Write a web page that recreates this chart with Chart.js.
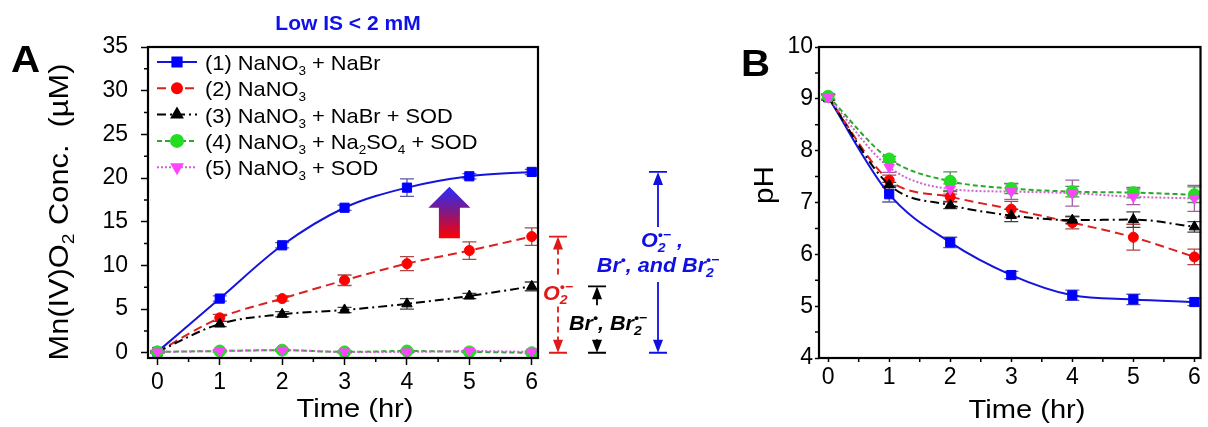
<!DOCTYPE html>
<html>
<head>
<meta charset="utf-8">
<script src="https://cdn.jsdelivr.net/npm/chart.js@4.4.1/dist/chart.umd.min.js"></script>
<style>
  html, body { margin: 0; padding: 0; background: #fff; }
  #wrapA { position: absolute; left: 0; top: 0; width: 730px; height: 427px; }
  #wrapB { position: absolute; left: 730px; top: 0; width: 478px; height: 427px; }
</style>
</head>
<body>
<div id="wrapA"><canvas id="chartA" width="730" height="427"></canvas></div>
<div id="wrapB"><canvas id="chartB" width="478" height="427"></canvas></div>
<script>
// time points (hr)
const hours = [0, 1, 2, 3, 4, 5, 6];
const xTicks = [0, 1, 2, 3, 4, 5, 6];
const yTicksA = [0, 5, 10, 15, 20, 25, 30, 35];
const yTicksB = [4, 5, 6, 7, 8, 9, 10];

// panel A: Mn(IV)O2 conc. (uM)
const concNaBr = [0.1, 6.2, 12.3, 16.6, 18.9, 20.2, 20.7];
const concNaNO3 = [0.1, 4.0, 6.2, 8.3, 10.2, 11.7, 13.3];
const concNaBrSOD = [0.1, 3.3, 4.4, 4.9, 5.6, 6.5, 7.6];
const concNa2SO4SOD = [0.1, 0.2, 0.3, 0.1, 0.2, 0.1, 0.0];
const concSOD = [0.1, 0.2, 0.3, 0.1, 0.1, 0.2, 0.1];

const errNaBr = [0.1, 0.3, 0.3, 0.3, 1.0, 0.3, 0.3];
const errNaNO3 = [0.1, 0.4, 0.3, 0.6, 0.8, 1.0, 1.0];
const errNaBrSOD = [0.1, 0.3, 0.3, 0.3, 0.6, 0.3, 0.5];
const errNa2SO4SOD = [0.1, 0.1, 0.1, 0.1, 0.1, 0.1, 0.1];
const errSOD = [0.1, 0.1, 0.1, 0.1, 0.1, 0.1, 0.1];

// panel B: pH
const phNaBr = [9.03, 7.16, 6.23, 5.6, 5.21, 5.13, 5.08];
const phNaNO3 = [9.03, 7.43, 7.11, 6.87, 6.61, 6.33, 5.95];
const phNaBrSOD = [9.03, 7.34, 6.95, 6.75, 6.66, 6.67, 6.53];
const phNa2SO4SOD = [9.05, 7.84, 7.41, 7.27, 7.21, 7.19, 7.15];
const phSOD = [9.03, 7.68, 7.26, 7.21, 7.18, 7.11, 7.08];

const errPhNaBr = [0.05, 0.15, 0.1, 0.07, 0.1, 0.1, 0.07];
const errPhNaNO3 = [0.05, 0.1, 0.1, 0.15, 0.12, 0.25, 0.15];
const errPhNaBrSOD = [0.05, 0.05, 0.07, 0.12, 0.07, 0.15, 0.1];
const errPhNa2SO4SOD = [0.05, 0.05, 0.18, 0.1, 0.1, 0.1, 0.15];
const errPhSOD = [0.05, 0.1, 0.1, 0.15, 0.25, 0.15, 0.25];

// legend labels, as [text, kind] runs (kind: n normal, sub subscript)
const legendLabels = [
  [['(1) NaNO', 'n'], ['3', 'sub'], [' + NaBr', 'n']],
  [['(2) NaNO', 'n'], ['3', 'sub']],
  [['(3) NaNO', 'n'], ['3', 'sub'], [' + NaBr + SOD', 'n']],
  [['(4) NaNO', 'n'], ['3', 'sub'], [' + Na', 'n'], ['2', 'sub'], ['SO', 'n'], ['4', 'sub'], [' + SOD', 'n']],
  [['(5) NaNO', 'n'], ['3', 'sub'], [' + SOD', 'n']]
];

const FONT = '"Liberation Sans", Arial, sans-serif';

const styles = [
  { line: '#1414dc', fill: '#0000ff', err: '#5a5aa8', dash: [], point: 'rect', r: 6.5, rot: 0 },
  { line: '#dc2020', fill: '#ff0000', err: '#a84848', dash: [9, 5], point: 'circle', r: 5, rot: 0 },
  { line: '#000000', fill: '#000000', err: '#404040', dash: [9, 4, 2, 4], point: 'triangle', r: 6, rot: 0 },
  { line: '#2aa82a', fill: '#22dd22', err: '#4f8f4f', dash: [5, 3], point: 'circle', r: 6, rot: 0 },
  { line: '#cc66cc', fill: '#ff44ff', err: '#a060a0', dash: [2, 2], point: 'triangle', r: 6, rot: 180 }
];

function makeDatasets(values, errors) {
  return values.map((arr, k) => ({
    data: hours.map((h, i) => ({ x: h, y: arr[i] })),
    errorBars: errors[k],
    borderColor: styles[k].line,
    borderWidth: 2,
    borderDash: styles[k].dash,
    pointStyle: styles[k].point,
    pointRotation: styles[k].rot,
    pointRadius: styles[k].r,
    pointBackgroundColor: styles[k].fill,
    pointBorderColor: styles[k].fill,
    pointBorderWidth: 1,
    cubicInterpolationMode: 'monotone',
    fill: false,
    order: 5 - k
  }));
}

// rich text: runs of [text, kind]; kind n | sub | sup; 3rd flag stacks on previous run
function drawRich(ctx, runs, x, y, size, weight, color, align, stretch) {
  const sx = stretch || 1;
  const small = Math.round(size * 0.64);
  const fontFor = k => `${weight} ${k === 'n' ? size : small}px ${FONT}`;
  let cursor = 0, prevStart = 0;
  const placed = [];
  runs.forEach(([t, k, stack]) => {
    ctx.font = fontFor(k);
    const w = ctx.measureText(t).width;
    const start = stack ? prevStart : cursor;
    placed.push({ t, k, start });
    prevStart = start;
    cursor = Math.max(cursor, start + w);
  });
  let x0 = 0;
  if (align === 'center') x0 = -cursor / 2;
  if (align === 'right') x0 = -cursor;
  ctx.save();
  ctx.translate(x, y);
  ctx.scale(sx, 1);
  ctx.fillStyle = color;
  ctx.textAlign = 'left';
  ctx.textBaseline = 'alphabetic';
  placed.forEach(p => {
    ctx.font = fontFor(p.k);
    let dy = 0;
    if (p.k === 'sub') dy = size * 0.24;
    if (p.k === 'sup') dy = -size * 0.42;
    ctx.fillText(p.t, x0 + p.start, dy);
  });
  ctx.restore();
  return cursor * sx;
}

const errorBarPlugin = {
  id: 'errorBars',
  beforeDatasetsDraw(chart) {
    const ctx = chart.ctx, xs = chart.scales.x, ys = chart.scales.y;
    ctx.save();
    chart.data.datasets.forEach((ds, k) => {
      ctx.strokeStyle = styles[k].err;
      ctx.lineWidth = 1.3;
      ds.data.forEach((p, i) => {
        const e = ds.errorBars[i];
        const px = xs.getPixelForValue(p.x);
        const top = ys.getPixelForValue(p.y + e), bot = ys.getPixelForValue(p.y - e);
        ctx.beginPath();
        ctx.moveTo(px, top); ctx.lineTo(px, bot);
        ctx.moveTo(px - 7, top); ctx.lineTo(px + 7, top);
        ctx.moveTo(px - 7, bot); ctx.lineTo(px + 7, bot);
        ctx.stroke();
      });
    });
    ctx.restore();
  }
};

// frame, minor ticks
const framePlugin = {
  id: 'frame',
  afterDraw(chart, args, opts) {
    const ctx = chart.ctx, a = chart.chartArea, xs = chart.scales.x, ys = chart.scales.y;
    ctx.save();
    ctx.strokeStyle = '#000';
    ctx.lineWidth = 1.5;
    ctx.beginPath();
    opts.minorX.forEach(v => {
      const px = xs.getPixelForValue(v);
      ctx.moveTo(px, a.bottom); ctx.lineTo(px, a.bottom + 4);
    });
    opts.minorY.forEach(v => {
      const py = ys.getPixelForValue(v);
      ctx.moveTo(a.left, py); ctx.lineTo(a.left - 4, py);
    });
    ctx.stroke();
    ctx.lineWidth = 2.2;
    ctx.strokeRect(a.left, a.top, a.right - a.left, a.bottom - a.top);
    ctx.restore();
  }
};

function axisOptions(yTicks, yMin, yMax, yWidth, tickLen, yPad, xPad) {
  return {
    x: {
      type: 'linear', min: -0.15, max: 6.1,
      afterBuildTicks: s => { s.ticks = xTicks.map(v => ({ value: v })); },
      afterFit: s => { s.height = 69; },
      border: { display: false },
      grid: { drawOnChartArea: false, drawTicks: true, tickLength: tickLen, tickWidth: 1.5, color: '#000' },
      ticks: { color: '#000', padding: xPad, font: { family: FONT, size: 23 } }
    },
    y: {
      type: 'linear', min: yMin, max: yMax,
      afterBuildTicks: s => { s.ticks = yTicks.map(v => ({ value: v })); },
      afterFit: s => { s.width = yWidth; },
      border: { display: false },
      grid: { drawOnChartArea: false, drawTicks: true, tickLength: tickLen, tickWidth: 1.5, color: '#000' },
      ticks: { color: '#000', padding: yPad, font: { family: FONT, size: 23 } }
    }
  };
}

// panel A decorations: labels, legend, titles, arrows
const panelAPlugin = {
  id: 'panelA',
  afterDraw(chart) {
    const ctx = chart.ctx, a = chart.chartArea, xs = chart.scales.x, ys = chart.scales.y;
    ctx.save();
    drawRich(ctx, [['A', 'n']], 11, 72, 36, 'bold', '#000', 'left', 1.12);
    drawRich(ctx, [['Low IS < 2 mM', 'n']], 348, 30, 21, 'bold', '#1010e8', 'center');
    drawRich(ctx, [['Time (hr)', 'n']], 355, 417, 26, 'normal', '#000', 'center', 1.12);
    ctx.save();
    ctx.translate(68, 212);
    ctx.rotate(-Math.PI / 2);
    drawRich(ctx, [['Mn(IV)O', 'n'], ['2', 'sub'], [' Conc.  (\u00b5M)', 'n']], 0, 0, 27, 'normal', '#000', 'center', 1.14);
    ctx.restore();

    // legend
    legendLabels.forEach((runs, k) => {
      const cy = 62 + k * 26.3;
      ctx.save();
      ctx.strokeStyle = styles[k].line;
      ctx.lineWidth = 2;
      ctx.setLineDash(styles[k].dash);
      ctx.beginPath(); ctx.moveTo(157, cy); ctx.lineTo(197, cy); ctx.stroke();
      ctx.setLineDash([]);
      ctx.fillStyle = styles[k].fill;
      ctx.strokeStyle = styles[k].fill;
      Chart.helpers.drawPoint(ctx, { pointStyle: styles[k].point, radius: styles[k].r, rotation: styles[k].rot, borderWidth: 1 }, 177, cy);
      ctx.restore();
      drawRich(ctx, runs, 205, cy + 8, 21, 'normal', '#000', 'left', 1.04);
    });

    // gradient arrow
    const ax = xs.getPixelForValue(4.68), tip = ys.getPixelForValue(19.0), base = ys.getPixelForValue(13.1);
    const g = ctx.createLinearGradient(0, tip, 0, base);
    g.addColorStop(0, '#2a2aff'); g.addColorStop(0.45, '#7a1a8a'); g.addColorStop(1, '#ff0000');
    ctx.fillStyle = g;
    ctx.beginPath();
    ctx.moveTo(ax, tip);
    ctx.lineTo(ax + 21, tip + 21);
    ctx.lineTo(ax + 10.5, tip + 21);
    ctx.lineTo(ax + 10.5, base);
    ctx.lineTo(ax - 10.5, base);
    ctx.lineTo(ax - 10.5, tip + 21);
    ctx.lineTo(ax - 21, tip + 21);
    ctx.closePath();
    ctx.fill();

    const y0 = ys.getPixelForValue(0);
    function dimArrow(x, top, color, dash, gaps) {
      ctx.save();
      ctx.strokeStyle = color; ctx.fillStyle = color; ctx.lineWidth = 1.8;
      ctx.beginPath();
      ctx.moveTo(x - 9, top); ctx.lineTo(x + 9, top);
      ctx.moveTo(x - 9, y0); ctx.lineTo(x + 9, y0);
      ctx.stroke();
      ctx.setLineDash(dash);
      ctx.beginPath();
      let cur = top + 12;
      gaps.forEach(([g0, g1]) => { ctx.moveTo(x, cur); ctx.lineTo(x, g0); cur = g1; });
      ctx.moveTo(x, cur); ctx.lineTo(x, y0 - 12);
      ctx.stroke();
      ctx.setLineDash([]);
      ctx.beginPath();
      ctx.moveTo(x, top); ctx.lineTo(x - 5, top + 13); ctx.lineTo(x + 5, top + 13); ctx.closePath();
      ctx.moveTo(x, y0); ctx.lineTo(x - 5, y0 - 13); ctx.lineTo(x + 5, y0 - 13); ctx.closePath();
      ctx.fill();
      ctx.restore();
    }
    const xr = a.right;
    const redTop = ys.getPixelForValue(concNaNO3[6]);
    const blackTop = ys.getPixelForValue(concNaBrSOD[6]);
    const blueTop = ys.getPixelForValue(concNaBr[6]);
    dimArrow(xr + 20, redTop, '#e01818', [6, 4], [[redTop + 40, redTop + 70]]);
    dimArrow(xr + 59, blackTop, '#000', [], [[blackTop + 19, blackTop + 53]]);
    dimArrow(xr + 120, blueTop, '#1010e0', [], [[blueTop + 55, blueTop + 110]]);

    drawRich(ctx, [['O', 'n'], ['2', 'sub'], ['\u2022\u2212', 'sup', true]], xr + 5, redTop + 63, 20, 'italic bold', '#e01818', 'left', 1.08);
    drawRich(ctx, [['Br', 'n'], ['\u2022', 'sup'], [', Br', 'n'], ['2', 'sub'], ['\u2022\u2212', 'sup', true]], xr + 70, blackTop + 44, 20, 'italic bold', '#000', 'center', 1.08);
    drawRich(ctx, [['O', 'n'], ['2', 'sub'], ['\u2022\u2212', 'sup', true], [' ,', 'n']], xr + 124, blueTop + 75, 20, 'italic bold', '#1010e0', 'center', 1.08);
    drawRich(ctx, [['Br', 'n'], ['\u2022', 'sup'], [', and Br', 'n'], ['2', 'sub'], ['\u2022\u2212', 'sup', true]], xr + 120, blueTop + 100, 20, 'italic bold', '#1010e0', 'center', 1.08);
    ctx.restore();
  }
};

const panelBPlugin = {
  id: 'panelB',
  afterDraw(chart) {
    const ctx = chart.ctx;
    ctx.save();
    drawRich(ctx, [['B', 'n']], 11, 76, 36, 'bold', '#000', 'left', 1.12);
    drawRich(ctx, [['Time (hr)', 'n']], 297, 418, 26, 'normal', '#000', 'center', 1.12);
    ctx.save();
    ctx.translate(43, 185);
    ctx.rotate(-Math.PI / 2);
    drawRich(ctx, [['pH', 'n']], 0, 0, 27, 'normal', '#000', 'center', 1.1);
    ctx.restore();
    ctx.restore();
  }
};

new Chart(document.getElementById('chartA'), {
  type: 'line',
  data: {
    datasets: makeDatasets(
      [concNaBr, concNaNO3, concNaBrSOD, concNa2SO4SOD, concSOD],
      [errNaBr, errNaNO3, errNaBrSOD, errNa2SO4SOD, errSOD])
  },
  options: {
    responsive: false,
    animation: false,
    devicePixelRatio: 1,
    layout: { padding: { left: 0, top: 47, right: 192, bottom: 0 } },
    scales: axisOptions(yTicksA, -0.6, 35, 148, 7, 13, 4),
    plugins: {
      legend: { display: false },
      tooltip: { enabled: false },
      frame: { minorX: [0.5, 1.5, 2.5, 3.5, 4.5, 5.5], minorY: [2.5, 7.5, 12.5, 17.5, 22.5, 27.5, 32.5] }
    }
  },
  plugins: [errorBarPlugin, framePlugin, panelAPlugin]
});

new Chart(document.getElementById('chartB'), {
  type: 'line',
  data: {
    datasets: makeDatasets(
      [phNaBr, phNaNO3, phNaBrSOD, phNa2SO4SOD, phSOD],
      [errPhNaBr, errPhNaNO3, errPhNaBrSOD, errPhNa2SO4SOD, errPhSOD])
  },
  options: {
    responsive: false,
    animation: false,
    devicePixelRatio: 1,
    layout: { padding: { left: 0, top: 47, right: 3, bottom: 0 } },
    scales: axisOptions(yTicksB, 4, 10, 89, 4, 2, 2),
    plugins: {
      legend: { display: false },
      tooltip: { enabled: false },
      frame: { minorX: [0.5, 1.5, 2.5, 3.5, 4.5, 5.5], minorY: [4.5, 5.5, 6.5, 7.5, 8.5, 9.5] }
    }
  },
  plugins: [errorBarPlugin, framePlugin, panelBPlugin]
});
</script>
</body>
</html>
